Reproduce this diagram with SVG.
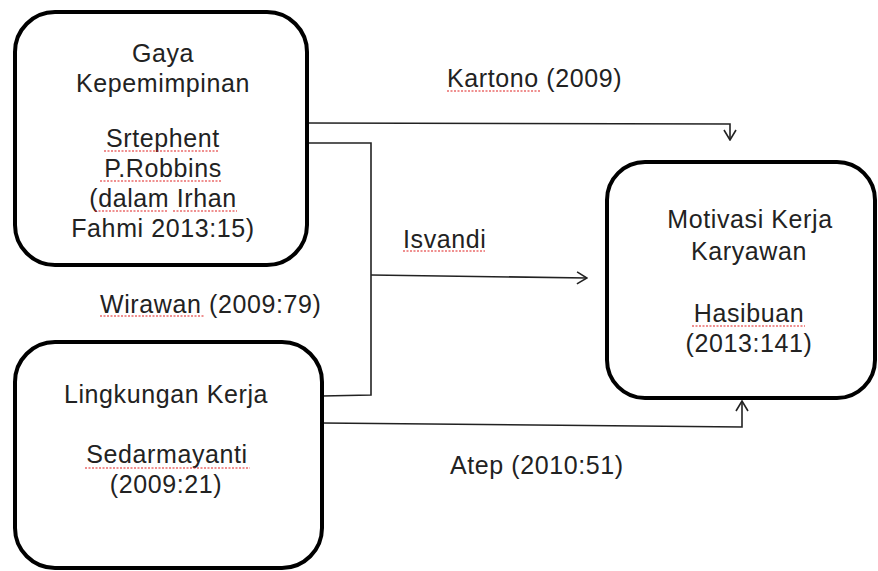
<svg xmlns="http://www.w3.org/2000/svg" width="878" height="571" viewBox="0 0 878 571">
<style>
.box{fill:#fff;stroke:#000;stroke-width:4}
.t{font-family:"Liberation Sans",Arial,sans-serif;font-size:25px;letter-spacing:0.6px;fill:#222}
.c{text-anchor:middle}
.conn{fill:none;stroke:#222;stroke-width:1.6}
.sq{fill:none;stroke:#e02020;stroke-width:1.2;stroke-dasharray:2 1.5}
</style>
<defs>
<marker id="arr" viewBox="0 0 12 14" refX="11" refY="7" markerWidth="12" markerHeight="14" markerUnits="userSpaceOnUse" orient="auto">
<path d="M1,1 L11,7 L1,13" fill="none" stroke="#222" stroke-width="1.6"/>
</marker>
</defs>
<rect width="878" height="571" fill="#fff"/>
<g id="connectors">
<path class="conn" d="M307,123 L730,124 L730,140" marker-end="url(#arr)"/>
<path class="conn" d="M307,143 L371,143 L371,395 L322,396"/>
<path class="conn" d="M371,275 L587,278" marker-end="url(#arr)"/>
<path class="conn" d="M322,423 L742,427 L742,401" marker-end="url(#arr)"/>
</g>
<g id="node-gaya">
<rect class="box" x="15" y="12" width="292" height="253" rx="40"/>
<text class="t c" x="163" y="62">Gaya</text>
<text class="t c" x="163" y="92">Kepemimpinan</text>
<text class="t c" x="163" y="147">Srtephent</text>
<text class="t c" x="163" y="177">P.Robbins</text>
<text class="t c" x="163" y="207">(dalam Irhan</text>
<text class="t c" x="163" y="237">Fahmi 2013:15)</text>
<path class="sq" d="M104,151 H218 M100,181 H222 M95,211 H168 M173,211 H237"/>
</g>
<g id="node-lingkungan">
<rect class="box" x="15" y="342" width="307" height="226" rx="40"/>
<text class="t c" x="166" y="403">Lingkungan Kerja</text>
<text class="t c" x="167" y="463">Sedarmayanti</text>
<text class="t c" x="166" y="493">(2009:21)</text>
<path class="sq" d="M85,468 H250"/>
</g>
<g id="node-motivasi">
<rect class="box" x="607" y="162" width="268" height="236" rx="38"/>
<text class="t c" x="750" y="228">Motivasi Kerja</text>
<text class="t c" x="749" y="260">Karyawan</text>
<text class="t c" x="749" y="322">Hasibuan</text>
<text class="t c" x="749" y="352">(2013:141)</text>
<path class="sq" d="M692,326 H805"/>
</g>
<g id="labels">
<text class="t" x="447" y="87">Kartono (2009)</text>
<path class="sq" d="M447,91 H540"/>
<text class="t" x="403" y="248">Isvandi</text>
<path class="sq" d="M403,251 H485"/>
<text class="t" x="100" y="313">Wirawan (2009:79)</text>
<path class="sq" d="M100,316 H205"/>
<text class="t" x="450" y="474">Atep (2010:51)</text>
</g>
</svg>
